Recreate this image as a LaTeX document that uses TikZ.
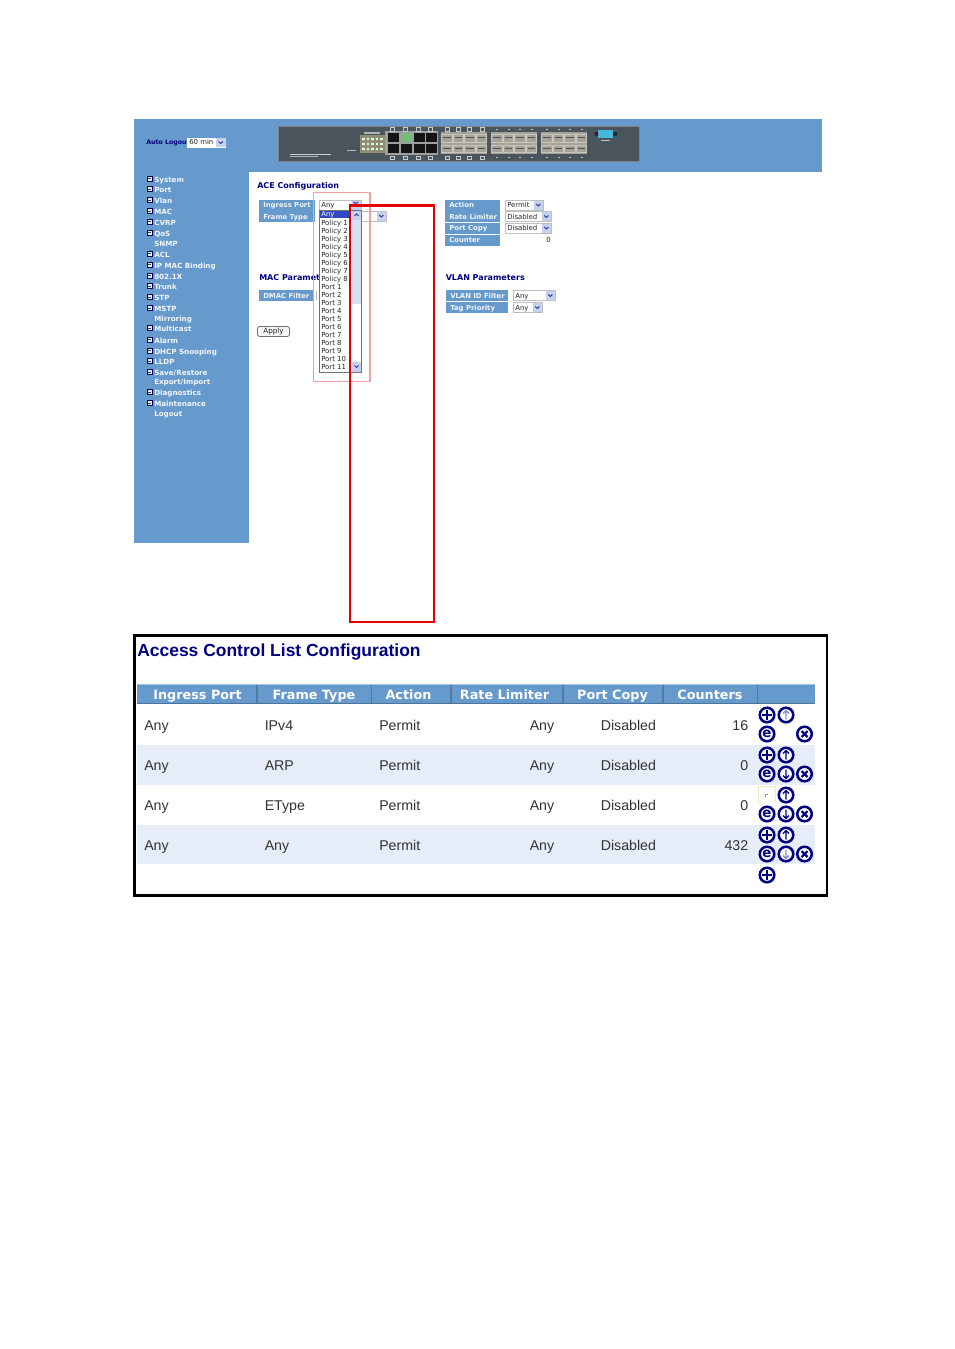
\documentclass[tikz,border=0pt]{standalone}
\usepackage{fontspec}
\setmainfont{Liberation Sans}
\newfontfamily\vera{DejaVu Sans}
\definecolor{web}{HTML}{6699CC}
\definecolor{navy2}{HTML}{000080}
\definecolor{rowb}{HTML}{E6ECF8}
\definecolor{pale}{HTML}{F2A0A0}
\definecolor{dev}{HTML}{4A545C}
\definecolor{sel}{HTML}{C4D2F0}
\definecolor{sfp}{HTML}{A5A298}
\definecolor{sfpl}{HTML}{C9C6BE}
\tikzset{
 x=0.75pt,y=-0.75pt,
 side/.style={anchor=west,inner sep=0,yshift=-.35pt,text height=4.2pt,text depth=1.2pt,font=\vera\bfseries\fontsize{5.35pt}{6pt}\selectfont,text=white,opacity=.92},
 plus/.style={draw=navy2!70!black,fill=white!85!web,line width=.65pt},
 lab/.style={anchor=west,inner sep=0,yshift=-.75pt,text height=4pt,text depth=1.1pt,font=\vera\bfseries\fontsize{5.15pt}{6pt}\selectfont,text=white,opacity=.9},
 val/.style={anchor=west,inner sep=0,yshift=-.75pt,text height=4pt,text depth=1.1pt,font=\vera\fontsize{5.2pt}{6pt}\selectfont,text=black!85},
 head/.style={anchor=west,inner sep=0,yshift=-.75pt,text height=4.6pt,text depth=1.3pt,font=\vera\bfseries\fontsize{6pt}{7pt}\selectfont,text=navy2},
 th/.style={anchor=center,inner sep=0,yshift=-.75pt,text height=7.5pt,text depth=2.2pt,font=\vera\bfseries\fontsize{9.6pt}{12pt}\selectfont,text=white},
 td/.style={anchor=base west,inner sep=0,font=\fontsize{10.65pt}{13pt}\selectfont,text=black!80},
 tdr/.style={anchor=base east,inner sep=0,font=\fontsize{10.65pt}{13pt}\selectfont,text=black!80},
 ic/.style={circle,draw=navy2,line width=1.9pt,minimum size=10.9pt,inner sep=0,fill=white},
 ict/.style={ic,text=navy2},
}
\newcommand{\sideitem}[4]{% name y text box?
 \ifnum#4=1 \draw[plus] (147.3,#2-3.8) rectangle (152.3,#2+1.2); \draw[black!75,line width=.5pt] (148.3,#2-1.3) -- (151.3,#2-1.3);\fi
 \node[side] (#1) at (154,#2) {#3};}
\newcommand{\selbox}[4]{% x1 x2 y text
 \fill[white] (#1,#3-5) rectangle (#2,#3+5);
 \draw[black!25,line width=.4pt] (#1,#3-5) rectangle (#2,#3+5);
 \fill[sel] (#2-9,#3-4.5) rectangle (#2-.5,#3+4.5);
 \draw[navy2!80,line width=.7pt] (#2-6.8,#3-1) -- (#2-4.7,#3+1) -- (#2-2.6,#3-1);
 \node[val] at (#1+2,#3) {#4};}
\newcommand{\labelbox}[5]{% name x1 x2 y text
 \fill[web] (#2,#4-5.5) rectangle (#3,#4+5.5);
 \node[lab] (#1) at (#2+4,#4) {#5};}
\newcommand{\plusic}[2]{\node[ic] at (#1,#2) {}; \draw[navy2,line width=1.6pt] (#1-4.8,#2) -- (#1+4.8,#2) (#1,#2-4.8) -- (#1,#2+4.8);}
\newcommand{\xic}[2]{\node[ic] at (#1,#2) {}; \draw[navy2,line width=1.6pt] (#1-3,#2-3) -- (#1+3,#2+3) (#1-3,#2+3) -- (#1+3,#2-3);}
\newcommand{\eic}[2]{\node[ict,font=\vera\bfseries\fontsize{10pt}{10pt}\selectfont] at (#1,#2) {e};}
\newcommand{\upic}[3][navy2]{\node[ic] at (#2,#3) {}; \draw[#1,line width=.9pt] (#2,#3+4.5) -- (#2,#3-4.5) (#2-3,#3-1.5) -- (#2,#3-4.5) -- (#2+3,#3-1.5);}
\newcommand{\dnic}[3][navy2]{\node[ic] at (#2,#3) {}; \draw[#1,line width=.9pt] (#2,#3-4.5) -- (#2,#3+4.5) (#2-3,#3+1.5) -- (#2,#3+4.5) -- (#2+3,#3+1.5);}
\begin{document}
\begin{tikzpicture}
\useasboundingbox (0,0) rectangle (954,1349);
\fill[white] (0,0) rectangle (954,1349);
% top screenshot
\fill[web] (134,119) rectangle (822,172);
\fill[web] (134,172) rectangle (249,543);
\node[anchor=west,inner sep=0,yshift=-.75pt,text height=4pt,text depth=1.1pt,font=\vera\bfseries\fontsize{4.7pt}{6pt}\selectfont,text=navy2] (autologout) at (146,142) {Auto Logout};
\fill[white] (187,137.5) rectangle (226,147.5);
\fill[sel] (216,138) rectangle (225.5,147);
\draw[navy2!80,line width=.7pt] (218.5,141.5) -- (220.7,143.5) -- (223,141.5);
\node[val] (autoval) at (189,142) {60 min};
% device
\fill[dev] (278,126) rectangle (639,161);
\draw[black!50,line width=.5pt] (278,126) rectangle (639,161);
\fill[white!70!dev] (290,153.5) rectangle (331,154.5);
\fill[white!55!dev] (290,155.5) rectangle (318,156.3);
\fill[white!60!dev] (347,149.5) rectangle (356,150.3);
% LED block
\fill[gray!80!olive] (360,135) rectangle (385,153);
\fill[gray!60!white] (364,132) rectangle (380,134);
\foreach \c in {0,...,4}{\foreach \r in {0,1,2}{\fill[white!85!green] (362+\c*4.6,137.5+\r*5.2) rectangle (364.6+\c*4.6,139.8+\r*5.2);}}
% RJ45
\fill[gray!75!white] (385,131) rectangle (438,155);
\foreach \x in {388,401,414,426}{
 \fill[black!92] (\x,133) rectangle (\x+10.5,142);
 \fill[black!92] (\x,144) rectangle (\x+10.5,153);
}
\fill[green!35!gray!80!white] (401,133) rectangle (411.5,142);
\foreach \x in {392,405,418,430,447,458,469,482}{
 \draw[white!70!dev,line width=.7pt] (\x-2,127.5) rectangle (\x+2,131);
 \draw[white!70!dev,line width=.7pt] (\x-2,156) rectangle (\x+2,159.5);
}
% SFP blocks
\foreach \s in {441,491,541}{
 \fill[sfp] (\s,132) rectangle (\s+46,153.5);
 \foreach \i in {0,1,2,3}{
  \draw[sfpl,line width=.6pt] (\s+\i*11.5+.5,134) rectangle (\s+\i*11.5+11,142);
  \draw[sfpl,line width=.6pt] (\s+\i*11.5+.5,145) rectangle (\s+\i*11.5+11,152.5);
  \draw[dev,line width=.6pt] (\s+\i*11.5+2,137) -- (\s+\i*11.5+9.5,137);
  \draw[dev,line width=.6pt] (\s+\i*11.5+2,148) -- (\s+\i*11.5+9.5,148);
 }
}
\foreach \x in {497,509,520,532,547,559,570,582}{
 \fill[white!65!dev] (\x-.8,128.5) rectangle (\x+.8,130);
 \fill[white!65!dev] (\x-.8,156.5) rectangle (\x+.8,158);
}
% serial port
\fill[web!70!cyan] (598,130) rectangle (613,137.5);
\fill[black!85] (594.5,132) rectangle (598,135.5) (613,132) rectangle (617,135.5);
\fill[white!65!dev] (601,140) rectangle (610,141);
% side menu
\sideitem{m1}{180}{System}{1}
\sideitem{m2}{190.5}{Port}{1}
\sideitem{m3}{201.5}{Vlan}{1}
\sideitem{m4}{212.5}{MAC}{1}
\sideitem{m5}{223}{CVRP}{1}
\sideitem{m6}{234}{QoS}{1}
\sideitem{m7}{244}{SNMP}{0}
\sideitem{m8}{255}{ACL}{1}
\sideitem{m9}{266}{IP MAC Binding}{1}
\sideitem{m10}{277}{802.1X}{1}
\sideitem{m11}{287.5}{Trunk}{1}
\sideitem{m12}{298.5}{STP}{1}
\sideitem{m13}{309.5}{MSTP}{1}
\sideitem{m14}{319}{Mirroring}{0}
\sideitem{m15}{329.5}{Multicast}{1}
\sideitem{m16}{341}{Alarm}{1}
\sideitem{m17}{352}{DHCP Snooping}{1}
\sideitem{m18}{362.5}{LLDP}{1}
\sideitem{m19}{373.5}{Save/Restore}{1}
\sideitem{m20}{382.5}{Export/Import}{0}
\sideitem{m21}{393.5}{Diagnostics}{1}
\sideitem{m22}{404.5}{Maintenance}{1}
\sideitem{m23}{414}{Logout}{0}
% main form
\node[head] (ace) at (257,185) {ACE Configuration};
\labelbox{ingress}{259}{315}{205}{Ingress Port}
\labelbox{frame}{259}{315}{216.5}{Frame Type}
\selbox{361}{386}{216}{}
\node[head] (macp) at (259,277.5) {MAC Paramet};
\labelbox{dmac}{259}{313}{295.5}{DMAC Filter}
\draw[black!25] (316.5,291) -- (316.5,300);
\node[draw=black!55,fill=black!4,rounded corners=1.2pt,line width=.6pt,minimum width=24pt,minimum height=7.5pt,inner sep=0,font=\vera\fontsize{5.4pt}{6pt}\selectfont,text=black!85] (apply) at (273.5,331.5) {Apply};
\labelbox{action}{445}{500}{205}{Action}
\labelbox{rate}{445}{500}{216.5}{Rate Limiter}
\labelbox{copy}{445}{500}{228}{Port Copy}
\labelbox{counter}{445}{500}{240}{Counter}
\selbox{505}{543}{205}{Permit}
\selbox{505}{551}{216.5}{Disabled}
\selbox{505}{551}{228}{Disabled}
\node[val,anchor=east] (countv) at (551,240) {0};
\node[head] (vlanp) at (445.5,277.5) {VLAN Parameters};
\labelbox{vid}{446}{508}{295.5}{VLAN ID Filter}
\labelbox{tag}{446}{508}{307.5}{Tag Priority}
\selbox{513}{555}{295.5}{Any}
\selbox{513}{542}{307.5}{Any}
% dropdown
\draw[pale,line width=1pt] (313.5,192.5) rectangle (370,381.5);
\selbox{319}{361}{205}{Any}
\fill[white] (319.5,210) rectangle (361.5,372);
\draw[black!55,line width=.5pt] (319.5,210) rectangle (361.5,372);
\fill[blue!45!web!85!black] (320,210.5) rectangle (351,218);
\node[val,text=white] (o0) at (321,214) {Any};
\foreach \t [count=\i] in {Policy 1,Policy 2,Policy 3,Policy 4,Policy 5,Policy 6,Policy 7,Policy 8,Port 1,Port 2,Port 3,Port 4,Port 5,Port 6,Port 7,Port 8,Port 9,Port 10,Port 11}{
 \node[val] (o\i) at (321,214.2+\i*8.03) {\t};
}
\fill[sel!70!white] (352,210.5) rectangle (361,304);
\fill[white] (352,304) rectangle (361,372);
\fill[sel] (352,362) rectangle (361,371.5);
\draw[navy2!80,line width=.7pt] (354.5,365.5) -- (356.5,367.5) -- (358.5,365.5);
% big red rectangle
\draw[red!90!black,line width=1.6pt] (350,205.5) rectangle (434,622);
\fill[sel] (352,210.8) rectangle (361,220);
\draw[navy2!80,line width=.7pt] (354.5,216) -- (356.5,214) -- (358.5,216);
\draw[navy2!80,line width=.7pt] (353.5,202) -- (355.7,203.6) -- (357.9,202);
% lower table
\fill[white] (134.5,635.5) rectangle (827,895.5);
\fill[rowb] (137,745) rectangle (815,784.5);
\fill[rowb] (137,824.5) rectangle (815,864);
\node[anchor=west,inner sep=0,yshift=-.75pt,text height=10pt,text depth=2.9pt,font=\bfseries\fontsize{13.1pt}{16pt}\selectfont,text=navy2] (title) at (137,651) {Access Control List Configuration};
\fill[web] (137,684) rectangle (815,704);
\draw[web!60!white,line width=.8pt] (137,684.5) -- (815,684.5);
\draw[web!75!black,line width=.8pt] (137,703.8) -- (815,703.8);
\foreach \x in {257,371.5,451,563,663,757.5}{\draw[web!80!black,line width=.9pt] (\x,685) -- (\x,703);}
\node[th] (h1) at (197.5,694.5) {Ingress Port};
\node[th] (h2) at (314,694.5) {Frame Type};
\node[th] (h3) at (408.5,694.5) {Action};
\node[th] (h4) at (504.5,694.5) {Rate Limiter};
\node[th] (h5) at (612.5,694.5) {Port Copy};
\node[th] (h6) at (710,694.5) {Counters};
\foreach \r/\y/\ft/\cnt in {1/730/IPv4/16,2/770/ARP/0,3/810/EType/0,4/850/Any/432}{
 \node[td] (a\r) at (144,\y) {Any};
 \node[td] (b\r) at (264.5,\y) {\ft};
 \node[td] (c\r) at (379,\y) {Permit};
 \node[tdr] (d\r) at (554.5,\y) {Any};
 \node[td] (e\r) at (600.5,\y) {Disabled};
 \node[tdr] (f\r) at (748.5,\y) {\cnt};
}
% row 1
\plusic{767}{715}\upic[navy2!45]{786}{715}\eic{767}{734}\xic{804.5}{734}
% row 2
\plusic{767}{755}\upic{786}{755}\eic{767}{774}\dnic{786}{774}\xic{804.5}{774}
% row 3
\fill[white] (758,786) rectangle (775,803);
\draw[black!25!yellow!30!white,line width=.6pt] (758,803) -- (758,786) -- (775,786) -- (775,803);
\draw[black!40,line width=.4pt] (765.5,794) -- (765.5,797) (765.5,794) -- (767.5,794);
\upic{786}{795}\eic{767}{814}\dnic{786}{814}\xic{804.5}{814}
% row 4
\plusic{767}{835}\upic{786}{835}\eic{767}{854}\dnic[navy2!45]{786}{854}\xic{804.5}{854}
% add
\plusic{767}{875}
% frame
\draw[black,line width=1.9pt] (134.5,635.5) rectangle (827,895.5);
\end{tikzpicture}
\end{document}
